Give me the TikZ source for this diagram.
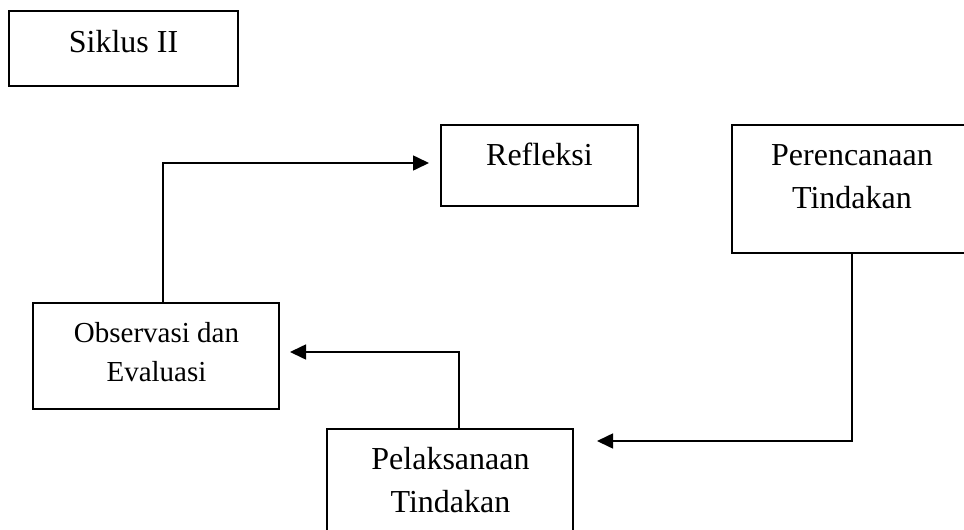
\documentclass[tikz,border=0pt]{standalone}
\usepackage{fontspec}
\setmainfont{Liberation Serif}
\usetikzlibrary{arrows.meta}
\begin{document}
\begin{tikzpicture}[x=1pt,y=-1pt,
  box/.style={draw=black,line width=1.3pt,rectangle,inner sep=0pt},
  lbl/.style={inner sep=0pt,anchor=base,align=center,font=\fontsize{32}{43}\selectfont},
  lblsmall/.style={inner sep=0pt,anchor=base,align=center,font=\fontsize{29}{39}\selectfont},
  arr/.style={line width=1.6pt,-{Triangle[length=16pt,width=15pt]}}]
\useasboundingbox (0,0) rectangle (964,530);
\fill[white] (0,0) rectangle (964,530);
\clip (0,0) rectangle (964,530);
% boxes
\node[box,minimum width=229pt,minimum height=75pt] (sik) at (123.5,48.5) {};
\node[box,minimum width=197pt,minimum height=81pt] (ref) at (539.5,165.5) {};
\node[box,minimum width=240pt,minimum height=128pt] (per) at (852,189) {};
\node[box,minimum width=246pt,minimum height=106pt] (obs) at (156,356) {};
\node[box,minimum width=246pt,minimum height=131pt] (pel) at (450,494.5) {};
% texts (base anchor = baseline of the last line)
\node[lbl] (siktxt) at (123.5,52) {Siklus II};
\node[lbl] (reftxt) at (539.5,165) {Refleksi};
\node[lbl] (pertxt) at (852,208) {Perencanaan\\Tindakan};
\node[lblsmall] (obstxt) at (156.5,381) {Observasi dan\\Evaluasi};
\node[lbl] (peltxt) at (450.5,512) {Pelaksanaan\\Tindakan};
% arrow end points
\coordinate (a1) at (429,163);
\coordinate (a2) at (597,441);
\coordinate (a3) at (290,352);
% connectors
\draw[arr] ([xshift=7pt]obs.north) |- (a1);
\draw[arr] (per.south) |- (a2);
\draw[arr] ([xshift=9pt]pel.north) |- (a3);
\end{tikzpicture}
\end{document}
